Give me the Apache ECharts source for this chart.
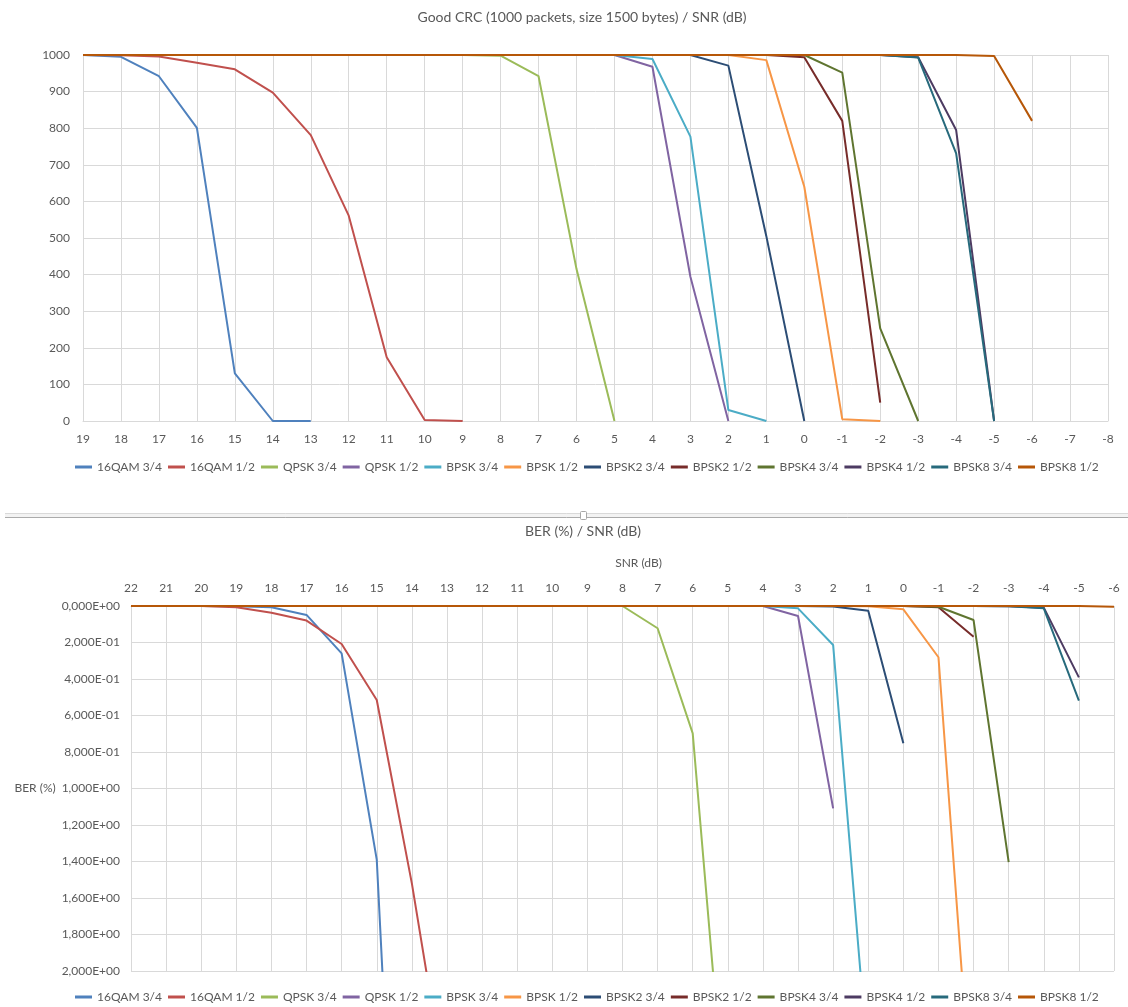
<!DOCTYPE html>
<html>
<head>
<meta charset="utf-8">
<script src="https://cdn.jsdelivr.net/npm/echarts@6/dist/echarts.min.js"></script>
<style>
  html, body { margin: 0; padding: 0; background: #ffffff; }
  #chart { width: 1128px; height: 1007px; }
</style>
</head>
<body>
<div id="chart"></div>
<script>
const N = null;

// Modulation / coding schemes (legend order)
const schemes = ['16QAM 3/4', '16QAM 1/2', 'QPSK 3/4', 'QPSK 1/2', 'BPSK 3/4', 'BPSK 1/2',
                 'BPSK2 3/4', 'BPSK2 1/2', 'BPSK4 3/4', 'BPSK4 1/2', 'BPSK8 3/4', 'BPSK8 1/2'];

// ---- Good CRC count (out of 1000 packets) per SNR step ----
const crcSnr = ['19', '18', '17', '16', '15', '14', '13', '12', '11', '10', '9', '8', '7', '6',
                '5', '4', '3', '2', '1', '0', '-1', '-2', '-3', '-4', '-5', '-6', '-7', '-8'];
//                19    18   17   16   15   14   13   12   11   10   9    8    7    6    5    4    3    2    1    0    -1   -2   -3   -4   -5   -6   -7   -8
const crc16qam34 = [1000, 995, 942, 801, 130, 0,   0,   N,   N,   N,   N,   N,   N,   N,   N,   N,   N,   N,   N,   N,   N,   N,   N,   N,   N,   N,   N,   N];
const crc16qam12 = [1000, 999, 996, 979, 961, 897, 781, 561, 174, 3,   0,   N,   N,   N,   N,   N,   N,   N,   N,   N,   N,   N,   N,   N,   N,   N,   N,   N];
const crcQpsk34  = [N,    N,   N,   N,   N,   N,   N,   N,   N,   1000,1000,998, 942, 415, 0,   N,   N,   N,   N,   N,   N,   N,   N,   N,   N,   N,   N,   N];
const crcQpsk12  = [N,    N,   N,   N,   N,   N,   N,   N,   N,   N,   N,   N,   1000,1000,1000,968, 394, 0,   N,   N,   N,   N,   N,   N,   N,   N,   N,   N];
const crcBpsk34  = [N,    N,   N,   N,   N,   N,   N,   N,   N,   N,   N,   N,   N,   1000,1000,989, 777, 30,  0,   N,   N,   N,   N,   N,   N,   N,   N,   N];
const crcBpsk12  = [N,    N,   N,   N,   N,   N,   N,   N,   N,   N,   N,   N,   N,   N,   N,   1000,1000,1000,986, 640, 5,   0,   N,   N,   N,   N,   N,   N];
const crcBpsk2_34= [N,    N,   N,   N,   N,   N,   N,   N,   N,   N,   N,   N,   N,   N,   1000,1000,1000,971, 505, 0,   N,   N,   N,   N,   N,   N,   N,   N];
const crcBpsk2_12= [N,    N,   N,   N,   N,   N,   N,   N,   N,   N,   N,   N,   N,   N,   N,   N,   1000,1000,1000,994, 820, 50,  N,   N,   N,   N,   N,   N];
const crcBpsk4_34= [N,    N,   N,   N,   N,   N,   N,   N,   N,   N,   N,   N,   N,   N,   N,   N,   N,   1000,1000,1000,952, 253, 0,   N,   N,   N,   N,   N];
const crcBpsk4_12= [N,    N,   N,   N,   N,   N,   N,   N,   N,   N,   N,   N,   N,   N,   N,   N,   N,   N,   N,   1000,1000,1000,994, 795, 0,   N,   N,   N];
const crcBpsk8_34= [N,    N,   N,   N,   N,   N,   N,   N,   N,   N,   N,   N,   N,   N,   N,   N,   N,   N,   N,   1000,1000,1000,993, 731, 0,   N,   N,   N];
const crcBpsk8_12= [1000, 1000,1000,1000,1000,1000,1000,1000,1000,1000,1000,1000,1000,1000,1000,1000,1000,1000,1000,1000,1000,1000,1000,1000,997, 820, N,   N];

// ---- Bit error rate (%) per SNR step ----
const berSnr = ['22', '21', '20', '19', '18', '17', '16', '15', '14', '13', '12', '11', '10', '9', '8',
                '7', '6', '5', '4', '3', '2', '1', '0', '-1', '-2', '-3', '-4', '-5', '-6'];
//                22 21 20 19     18     17     16     15     14     13     12 11 10 9  8  7      6      5      4  3      2      1      0      -1     -2     -3     -4     -5     -6
const ber16qam34 = [0, 0, 0, 0.001, 0.007, 0.049, 0.260, 1.390, 5.200, N,     N, N, N, N, N, N,     N,     N,     N, N,     N,     N,     N,     N,     N,     N,     N,     N,     N];
const ber16qam12 = [0, 0, 0, 0.007, 0.037, 0.080, 0.208, 0.515, 1.520, 2.690, N, N, N, N, N, N,     N,     N,     N, N,     N,     N,     N,     N,     N,     N,     N,     N,     N];
const berQpsk34  = [N, N, N, N,     N,     N,     N,     N,     N,     N,     N, N, 0, 0, 0, 0.122, 0.698, 2.960, N, N,     N,     N,     N,     N,     N,     N,     N,     N,     N];
const berQpsk12  = [N, N, N, N,     N,     N,     N,     N,     N,     N,     N, N, N, N, N, N,     0,     0,     0, 0.055, 1.109, N,     N,     N,     N,     N,     N,     N,     N];
const berBpsk34  = [N, N, N, N,     N,     N,     N,     N,     N,     N,     N, N, N, N, N, N,     N,     0,     0, 0.013, 0.214, 2.520, N,     N,     N,     N,     N,     N,     N];
const berBpsk12  = [N, N, N, N,     N,     N,     N,     N,     N,     N,     N, N, N, N, N, N,     N,     N,     N, 0,     0,     0.002, 0.018, 0.281, 2.880, N,     N,     N,     N];
const berBpsk2_34= [N, N, N, N,     N,     N,     N,     N,     N,     N,     N, N, N, N, N, N,     N,     N,     0, 0,     0.003, 0.026, 0.752, N,     N,     N,     N,     N,     N];
const berBpsk2_12= [N, N, N, N,     N,     N,     N,     N,     N,     N,     N, N, N, N, N, N,     N,     N,     N, N,     N,     0,     0,     0.007, 0.168, N,     N,     N,     N];
const berBpsk4_34= [N, N, N, N,     N,     N,     N,     N,     N,     N,     N, N, N, N, N, N,     N,     N,     N, N,     N,     0,     0,     0.004, 0.077, 1.404, N,     N,     N];
const berBpsk4_12= [N, N, N, N,     N,     N,     N,     N,     N,     N,     N, N, N, N, N, N,     N,     N,     N, N,     N,     N,     N,     N,     0,     0.001, 0.009, 0.391, N];
const berBpsk8_34= [N, N, N, N,     N,     N,     N,     N,     N,     N,     N, N, N, N, N, N,     N,     N,     N, N,     N,     N,     N,     N,     0,     0.001, 0.013, 0.519, N];
const berBpsk8_12= [0, 0, 0, 0,     0,     0,     0,     0,     0,     0,     0, 0, 0, 0, 0, 0,     0,     0,     0, 0,     0,     0,     0,     0,     0,     0,     0,     0,     0.004];

const crcValues = [crc16qam34, crc16qam12, crcQpsk34, crcQpsk12, crcBpsk34, crcBpsk12,
                   crcBpsk2_34, crcBpsk2_12, crcBpsk4_34, crcBpsk4_12, crcBpsk8_34, crcBpsk8_12];
const berValues = [ber16qam34, ber16qam12, berQpsk34, berQpsk12, berBpsk34, berBpsk12,
                   berBpsk2_34, berBpsk2_12, berBpsk4_34, berBpsk4_12, berBpsk8_34, berBpsk8_12];

const palette = ['#4F81BD', '#C0504D', '#9BBB59', '#8064A2', '#4BACC6', '#F79646',
                 '#2C4D75', '#772C2A', '#5F7530', '#4D3B62', '#276A7C', '#B65708'];

const FONT = 'Lato, "Liberation Sans", sans-serif';
const TEXT = '#595959';
const GRID = '#d9d9d9';

// 0.2 -> "2,000E-01"
function sci(v) {
  if (v === 0) return '0,000E+00';
  let e = Math.floor(Math.log10(v) + 1e-9);
  let m = v / Math.pow(10, e);
  if (m >= 9.9995) { m /= 10; e += 1; }
  return m.toFixed(3).replace('.', ',') + 'E' + (e < 0 ? '-' : '+') + String(Math.abs(e)).padStart(2, '0');
}

function lineSeries(name, data, idx, color) {
  return {
    name: name,
    type: 'line',
    data: data,
    xAxisIndex: idx,
    yAxisIndex: idx,
    symbol: 'none',
    showSymbol: false,
    connectNulls: false,
    clip: true,
    color: color,
    lineStyle: { width: 2, color: color },
    emphasis: { disabled: true }
  };
}

const series = [];
schemes.forEach((s, i) => series.push(lineSeries(s, crcValues[i], 0, palette[i])));
schemes.forEach((s, i) => series.push(lineSeries(s, berValues[i], 1, palette[i])));

const legendBase = {
  data: schemes,
  left: 75,
  width: 1050,
  orient: 'horizontal',
  icon: 'rect',
  itemWidth: 17,
  itemHeight: 3,
  itemGap: 6,
  padding: 0,
  textStyle: { color: TEXT, fontSize: 12, fontFamily: FONT }
};

const option = {
  animation: false,
  color: palette,
  textStyle: { fontFamily: FONT },
  title: [
    {
      text: 'Good CRC (1000 packets, size 1500 bytes) / SNR (dB)',
      left: 582, top: 10, textAlign: 'center', padding: 0,
      textStyle: { color: TEXT, fontSize: 14, fontWeight: 'normal', fontFamily: FONT }
    },
    {
      text: 'BER (%) / SNR (dB)',
      left: 583, top: 524, textAlign: 'center', padding: 0,
      textStyle: { color: TEXT, fontSize: 14, fontWeight: 'normal', fontFamily: FONT }
    }
  ],
  legend: [
    Object.assign({}, legendBase, { top: 461 }),
    Object.assign({}, legendBase, { top: 991 })
  ],
  grid: [
    { left: 83, right: 20, top: 55, height: 366 },
    { left: 131, right: 14, top: 606, height: 365 }
  ],
  xAxis: [
    {
      type: 'category', gridIndex: 0, data: crcSnr, boundaryGap: false,
      axisLine: { lineStyle: { color: GRID } },
      axisTick: { show: false },
      axisLabel: { color: TEXT, fontSize: 12, margin: 12, interval: 0, fontFamily: FONT },
      splitLine: { show: true, interval: 0, lineStyle: { color: GRID, width: 1 } }
    },
    {
      type: 'category', gridIndex: 1, data: berSnr, boundaryGap: false, position: 'top',
      name: 'SNR (dB)', nameLocation: 'middle', nameGap: 37,
      nameTextStyle: { color: TEXT, fontSize: 12, fontFamily: FONT, padding: [0, 0, 0, 32] },
      axisLine: { lineStyle: { color: GRID } },
      axisTick: { show: false },
      axisLabel: { color: TEXT, fontSize: 12, margin: 12, interval: 0, fontFamily: FONT },
      splitLine: { show: true, interval: 0, lineStyle: { color: GRID, width: 1 } }
    }
  ],
  yAxis: [
    {
      type: 'value', gridIndex: 0, min: 0, max: 1000, interval: 100,
      axisLine: { show: false }, axisTick: { show: false },
      axisLabel: { color: TEXT, fontSize: 12, margin: 13, fontFamily: FONT, formatter: v => String(v) },
      splitLine: { show: true, lineStyle: { color: GRID, width: 1 } }
    },
    {
      type: 'value', gridIndex: 1, min: 0, max: 2, interval: 0.2, inverse: true,
      name: 'BER (%)', nameLocation: 'middle', nameRotate: 0, nameGap: 73,
      nameTextStyle: { color: TEXT, fontSize: 12, fontFamily: FONT },
      axisLine: { show: false }, axisTick: { show: false },
      axisLabel: { color: TEXT, fontSize: 12, margin: 11, fontFamily: FONT, formatter: sci },
      splitLine: { show: true, lineStyle: { color: GRID, width: 1 } }
    }
  ],
  graphic: [
    // splitter bar between the two charts
    { type: 'rect', silent: true, shape: { x: 5, y: 513, width: 1123, height: 5 }, style: { fill: '#f3f3f3' } },
    { type: 'line', silent: true, shape: { x1: 5, y1: 513.5, x2: 1128, y2: 513.5 }, style: { stroke: '#d9d9d9', lineWidth: 1 } },
    { type: 'line', silent: true, shape: { x1: 5, y1: 517.5, x2: 1128, y2: 517.5 }, style: { stroke: '#ababab', lineWidth: 1 } },
    { type: 'rect', silent: true, shape: { x: 580.5, y: 511.5, width: 6, height: 8, r: 1 }, style: { fill: '#ffffff', stroke: '#a6a6a6', lineWidth: 1 } }
  ],
  series: series
};

const chart = echarts.init(document.getElementById('chart'), null, { renderer: 'canvas' });
chart.setOption(option);
</script>
</body>
</html>
